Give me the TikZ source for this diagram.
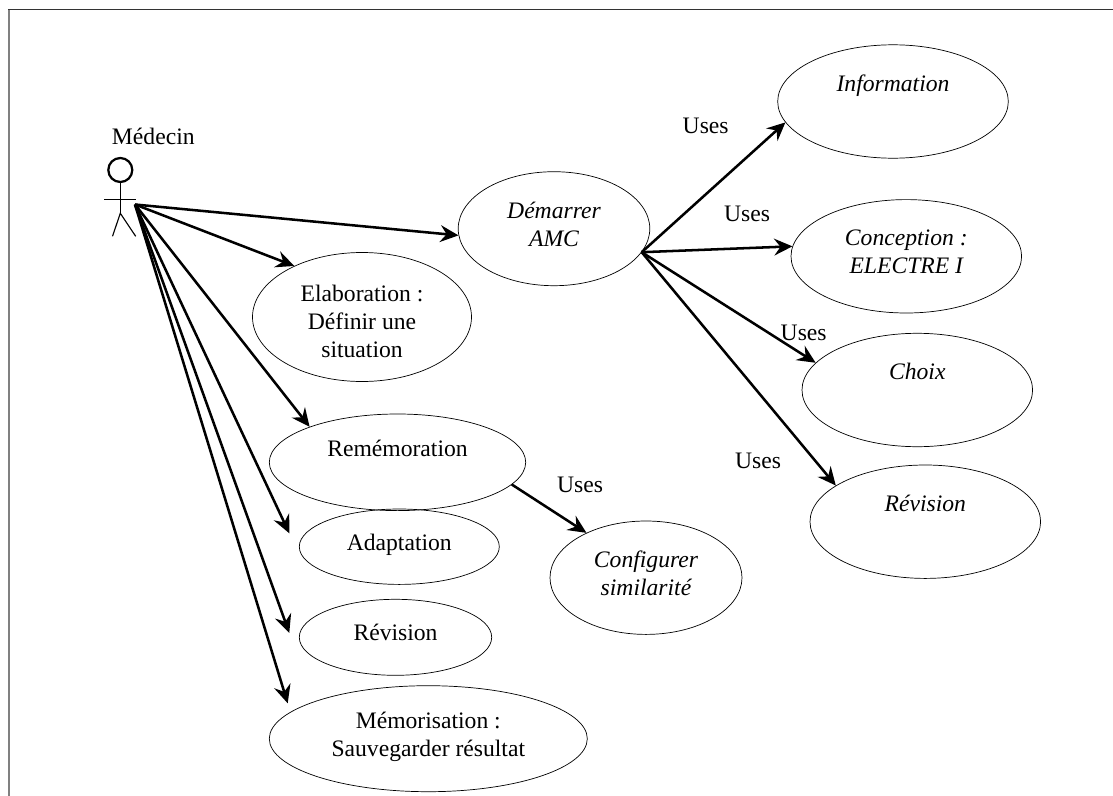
\documentclass[tikz,border=0pt]{standalone}
\usepackage{fontspec}
\setmainfont{Liberation Serif}
\usetikzlibrary{shapes.geometric, arrows.meta}

\begin{document}
\begin{tikzpicture}[x=0.025cm, y=-0.025cm,
        every node/.style={font=\fontsize{16.8}{20}\selectfont},
        usecase/.style={
                ellipse,
                draw,
                line width=0.5pt,
                inner sep=0pt,
                align=center,
                text depth=6.5pt,
        },
        ext/.style={usecase, font=\fontsize{16.8}{20}\selectfont\itshape},
        link/.style={
                -{Stealth[length=13pt, width=12pt, inset=4.5pt]},
                line width=1.8pt,
        },
        limb/.style={line width=0.8pt},
    ]
    \useasboundingbox (0, 0) rectangle (1113, 796);
    \draw[line width=1pt, black!80] (8, 9.5) -- (1113, 9.5);
    \draw[line width=1.3pt, black!50] (9, 9.5) -- (9, 796);

    \node[circle, draw, line width=1.6pt, inner sep=0pt, minimum size=24*0.025cm] (head) at (120.3, 170) {};
    \coordinate (hip) at (120.3, 213.3);
    \coordinate (armleft) at (104.3, 199.7);
    \coordinate (armright) at (136, 199.7);
    \coordinate (footleft) at (112.5, 236.3);
    \coordinate (footright) at (135.7, 236.3);
    \coordinate (hand) at (135, 204.5);
    \draw[limb] (head.south) -- (hip);
    \draw[limb] (armleft) -- (armright);
    \draw[limb] (footleft) -- (hip) -- (footright);
    \node (medecin) at (153.3, 136) {Médecin};

    \node[ext, minimum width=191.6*0.025cm, minimum height=114*0.025cm] (amc) at (554, 228.7) {Démarrer\\AMC};
    \node[usecase, text depth=0pt, inner ysep=-6pt, minimum width=219*0.025cm, minimum height=129*0.025cm] (elaboration) at (362, 317) {\rule{0pt}{18pt}Elaboration :\\Définir une\\situation};
    \node[usecase, text depth=20pt, minimum width=256.4*0.025cm, minimum height=96.6*0.025cm] (rememoration) at (397.5, 462.3) {Remémoration};
    \node[usecase, minimum width=200*0.025cm, minimum height=75.4*0.025cm] (adaptation) at (399.3, 546.7) {Adaptation};
    \node[usecase, minimum width=192.4*0.025cm, minimum height=76*0.025cm] (revision) at (395.5, 637.3) {Révision};
    \node[usecase, minimum width=318*0.025cm, minimum height=106*0.025cm] (memorisation) at (428.3, 738.7) {Mémorisation :\\Sauvegarder résultat};
    \node[ext, minimum width=192*0.025cm, minimum height=113.4*0.025cm] (similarite) at (646, 577.7) {Configurer\\similarité};

    \node[ext, minimum width=230.6*0.025cm, minimum height=113.4*0.025cm] (information) at (893, 101.5) {Information\\~};
    \node[ext, minimum width=230.6*0.025cm, minimum height=113.4*0.025cm] (conception) at (906.3, 256.3) {Conception :\\ELECTRE I};
    \node[ext, minimum width=230.6*0.025cm, minimum height=113.4*0.025cm] (choix) at (917.3, 390) {Choix\\~};
    \node[ext, minimum width=230.6*0.025cm, minimum height=113.4*0.025cm] (amcrevision) at (925.3, 521.7) {Révision\\~};

    \coordinate (adaptationend) at (289.3, 533.3);
    \coordinate (revisionend) at (289.3, 633);
    \coordinate (memorisationend) at (287.7, 703.3);

    \draw[link] (hand) -- (amc.184.2);
    \draw[link] (hand) -- (elaboration.143.9);
    \draw[link] (hand) -- (rememoration.158.7);
    \draw[link] (hand) -- (adaptationend);
    \draw[link] (hand) -- (revisionend);
    \draw[link] (hand) -- (memorisationend);

    \draw[link] (amc.-15.6) -- (information.191.3);
    \draw[link] (amc.-15.6) -- (conception.175.3);
    \draw[link] (amc.-15.6) -- (choix.165.7);
    \draw[link] (amc.-15.6) -- (amcrevision.158.3);
    \draw[link] (rememoration.-11.1) -- (similarite.143.1);

    \node (usesinformation) at (705.7, 126) {Uses};
    \node (usesconception) at (747, 214) {Uses};
    \node (useschoix) at (803.7, 333.3) {Uses};
    \node (usesrevision) at (758, 461) {Uses};
    \node (usessimilarite) at (580, 485) {Uses};
\end{tikzpicture}
\end{document}
